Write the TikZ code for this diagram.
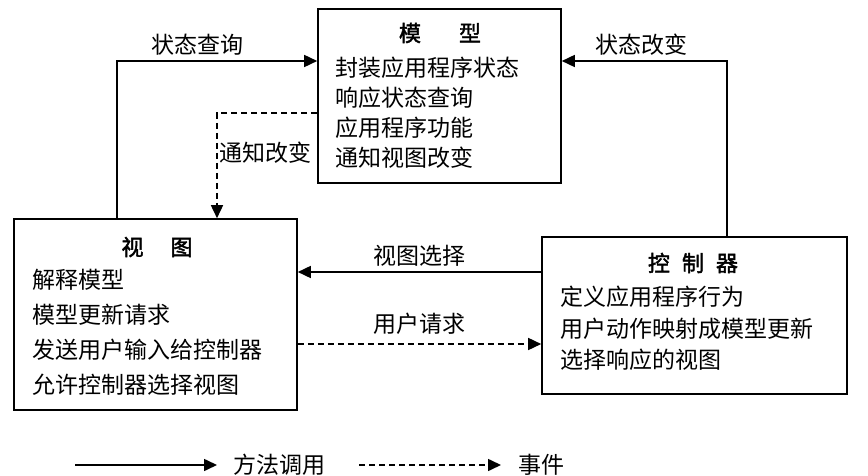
\documentclass[tikz,border=0pt]{standalone}
\usepackage{fontspec}
\setmainfont{Noto Sans CJK SC}
\newfontfamily\titlefont[FakeBold=2]{Noto Sans CJK SC}
\usetikzlibrary{positioning,arrows.meta}

\begin{document}
\begin{tikzpicture}[x=1pt, y=-1pt, font=\fontsize{23}{30}\selectfont,
	box/.style={draw, line width=1.6pt, inner sep=0pt},
	boxtitle/.style={font=\fontsize{22}{26}\selectfont\titlefont, inner sep=0pt},
	boxtext/.style={align=left, anchor=west, inner sep=0pt},
	call/.style={-{Triangle[length=13pt,width=12pt]}, line width=1.6pt},
	event/.style={call, dash pattern=on 6pt off 4pt},
	lbl/.style={inner sep=5pt}]
			\useasboundingbox (0,0) rectangle (868,476);

			\node[box, minimum width=243pt, minimum height=174pt] (model) at (439.5,96) {};
			\node[box, minimum width=283pt, minimum height=191pt] (view) at (155.5,314.5) {};
			\node[box, minimum width=305pt, minimum height=157pt] (controller) at (694.5,315.5) {};

			\node[boxtitle] (modeltitle) at (440,33) {模\hspace{38pt}型};
			\node[boxtext, font=\fontsize{23}{30}\selectfont] (modeltext) at (335,113) {封装应用程序状态\\响应状态查询\\应用程序功能\\通知视图改变};
			\node[boxtitle] (viewtitle) at (157,247) {视\hspace{27pt}图};
			\node[boxtext, font=\fontsize{23}{35}\selectfont] (viewtext) at (32,332.5) {解释模型\\模型更新请求\\发送用户输入给控制器\\允许控制器选择视图};
			\node[boxtitle] (controllertitle) at (693,263) {控\hspace{12pt}制\hspace{12pt}器};
			\node[boxtext, font=\fontsize{23}{31.5}\selectfont] (controllertext) at (560,328.5) {定义应用程序行为\\用户动作映射成模型更新\\选择响应的视图};

			\coordinate (query) at (117,61);
			\coordinate (change) at (727,61);
			\coordinate (notify) at (217,113);
			\coordinate (select) at (0,272);
			\coordinate (request) at (0,344);

			\draw[call] (view.north -| query) |- (model.west |- query) node[lbl, pos=0.7, above] {状态查询};
			\draw[event] (model.west |- notify) -| (view.north -| notify) node[inner sep=2pt, pos=0.69, right] {通知改变};
			\draw[call] (controller.north -| change) |- (model.east |- change) node[lbl, pos=0.76, above] {状态改变};
			\draw[call] (controller.west |- select) -- (view.east |- select) node[lbl, midway, above] {视图选择};
			\draw[event] (view.east |- request) -- (controller.west |- request) node[lbl, midway, above, yshift=4pt] {用户请求};

			\coordinate (callstart) at (75,465);
			\node[anchor=west, inner sep=0pt, inner xsep=16pt] (callkey) at (217,465) {方法调用};
			\draw[call] (callstart) -- (callkey);
			\coordinate (eventstart) at (359,465);
			\node[anchor=west, inner sep=0pt, inner xsep=17pt] (eventkey) at (501,465) {事件};
			\draw[event] (eventstart) -- (eventkey);
		\end{tikzpicture}
\end{document}
